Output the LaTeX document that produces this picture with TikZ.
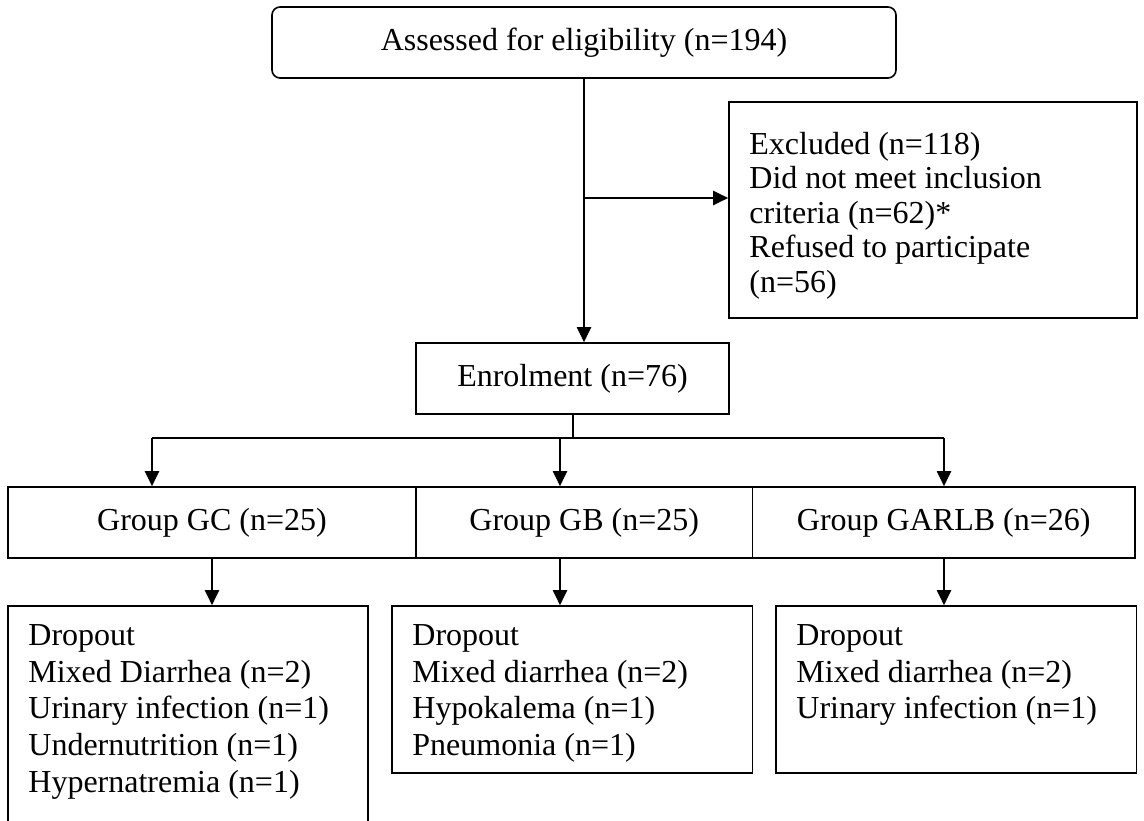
\documentclass[tikz,border=0pt]{standalone}
\usepackage{fontspec}
\setmainfont{Liberation Serif}
\usetikzlibrary{arrows.meta,calc}
\tikzset{
  box/.style={draw, line width=1.6pt, inner sep=0pt, rectangle},
  txt/.style={anchor=north west, inner sep=0pt, align=left},
  conn/.style={line width=2pt},
  arr/.style={line width=2pt, -{Triangle[length=15pt,width=14pt]}},
  every node/.style={font=\fontsize{32}{36.8}\selectfont}
}
\begin{document}
\begin{tikzpicture}[x=1pt,y=-1pt]
\clip (0,0) rectangle (1144,821);
\fill[white] (0,0) rectangle (1144,821);
% boxes
\node[box, rounded corners=8pt, minimum width=624pt, minimum height=71pt] (top) at (584,42.5) {Assessed for eligibility (n=194)};
\node[box, minimum width=408pt, minimum height=216pt] (excl) at (933,210) {};
\node[txt, font=\fontsize{32}{34.5}\selectfont] (excltxt) at ($(excl.north west)+(21,28.8)$) {\strut Excluded (n=118)\\Did not meet inclusion\\criteria (n=62)*\\Refused to participate\\(n=56)};
\node[box, minimum width=313pt, minimum height=71pt] (enrol) at (572.5,378.5) {Enrolment (n=76)};
\node[box, minimum width=408pt, minimum height=71pt] (gc) at (212,522.5) {Group GC (n=25)};
\node[box, minimum width=336.5pt, minimum height=71pt] (gb) at (584.25,522.5) {Group GB (n=25)};
\node[box, minimum width=382.5pt, minimum height=71pt] (garlb) at (943.75,522.5) {Group GARLB (n=26)};
\node[box, minimum width=360pt, minimum height=224pt] (d1) at (188,718) {};
\node[box, minimum width=360.5pt, minimum height=167pt] (d2) at (572.25,689.5) {};
\node[box, minimum width=360.5pt, minimum height=167pt] (d3) at (956.25,689.5) {};
\node[txt] (d1txt) at ($(d1.north west)+(21,14.2)$) {\strut Dropout\\Mixed Diarrhea (n=2)\\Urinary infection (n=1)\\Undernutrition (n=1)\\Hypernatremia (n=1)};
\node[txt] (d2txt) at ($(d2.north west)+(21,14.2)$) {\strut Dropout\\Mixed diarrhea (n=2)\\Hypokalema (n=1)\\Pneumonia (n=1)};
\node[txt] (d3txt) at ($(d3.north west)+(21,14.2)$) {\strut Dropout\\Mixed diarrhea (n=2)\\Urinary infection (n=1)};
% junction coordinates
\coordinate (j1) at (584,198);
\coordinate (b1) at (152,438);
\coordinate (b2) at (560,438);
\coordinate (b3) at (944,438);
% connectors
\draw[arr] (top.south) -- (top.south |- enrol.north);
\draw[arr] (j1) -- (j1 -| excl.west);
\draw[conn] (enrol.south) -- (enrol.south |- b1);
\draw[conn] (b1) -- (b3);
\draw[arr] (b1) -- (b1 |- gc.north);
\draw[arr] (b2) -- (b2 |- gb.north);
\draw[arr] (b3) -- (b3 |- garlb.north);
\draw[arr] (gc.south) -- (gc.south |- d1.north);
\draw[arr] (b2 |- gb.south) -- (b2 |- d2.north);
\draw[arr] (b3 |- garlb.south) -- (b3 |- d3.north);
\end{tikzpicture}
\end{document}
